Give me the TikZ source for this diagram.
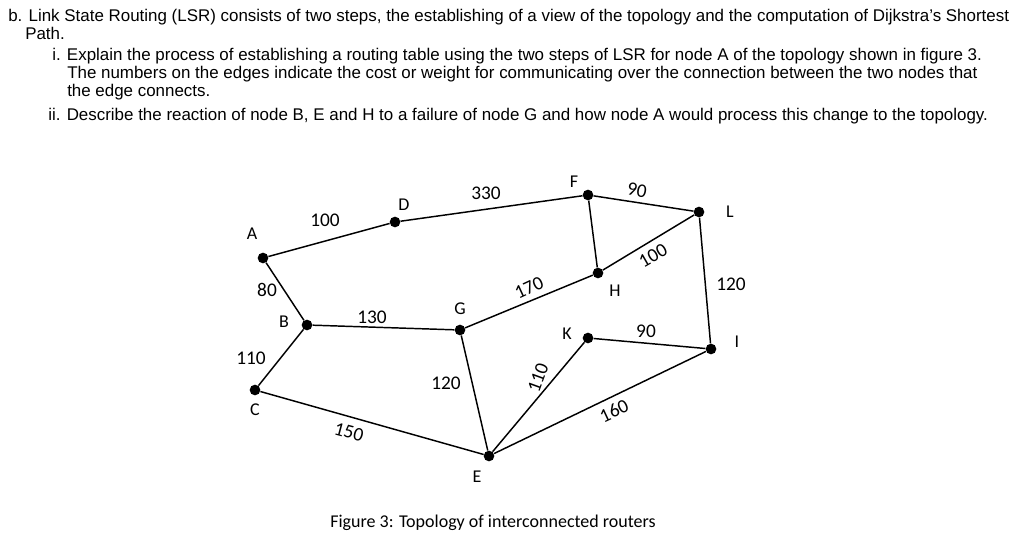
\documentclass[tikz,border=0pt]{standalone}
\usepackage{fontspec}
\setmainfont{Liberation Sans}
\newfontfamily\figfont{Carlito}
\usetikzlibrary{positioning}
\def\mydotsize{8pt}
\tikzset{
  router/.style = {circle, fill, inner sep=0pt, minimum size=\mydotsize},
  rname/.style = {font=\figfont\fontsize{13.5pt}{15pt}\selectfont},
  cost/.style = {font=\figfont\fontsize{14.5pt}{16pt}\selectfont, inner sep=0pt},
  qtext/.style = {anchor=base west, inner sep=0pt, font=\fontsize{12.7pt}{14pt}\selectfont},
  link/.style = {line width=1.1pt}
}
\begin{document}
\begin{tikzpicture}[x=0.75pt, y=-0.75pt]
\useasboundingbox (0,0) rectangle (1024,545);
% question text
\node[qtext] at (8,22) {b. Link State Routing (LSR) consists of two steps, the establishing of a view of the topology and the computation of Dijkstra's Shortest};
\node[qtext] at (25,40) {Path.};
\node[qtext] at (52,61) {i. Explain the process of establishing a routing table using the two steps of LSR for node A of the topology shown in figure 3.};
\node[qtext] at (67,79) {The numbers on the edges indicate the cost or weight for communicating over the connection between the two nodes that};
\node[qtext] at (67,97) {the edge connects.};
\node[qtext] at (48,121) {ii. Describe the reaction of node B, E and H to a failure of node G and how node A would process this change to the topology.};

% routers
\node[router] (A) at (263,258) {};
\node[router] (D) at (395,222) {};
\node[router] (F) at (588,195) {};
\node[router] (L) at (699,212) {};
\node[router] (H) at (598,273) {};
\node[router] (B) at (307,325) {};
\node[router] (G) at (460,330) {};
\node[router] (K) at (588,338) {};
\node[router] (I) at (711,349) {};
\node[router] (C) at (255,390) {};
\node[router] (E) at (489,456) {};

% router names
\node[rname] at (252,234) {A};
\node[rname] at (404,205) {D};
\node[rname] at (574,182) {F};
\node[rname] at (730,212) {L};
\node[rname] at (615,291) {H};
\node[rname] at (284,322) {B};
\node[rname] at (460,309) {G};
\node[rname] at (567,334) {K};
\node[rname] at (737,342) {I};
\node[rname] at (255,410) {C};
\node[rname] at (477,477) {E};

% links
\draw[link] (A) -- (D);
\draw[link] (D) -- (F);
\draw[link] (F) -- (L);
\draw[link] (F) -- (H);
\draw[link] (H) -- (L);
\draw[link] (L) -- (I);
\draw[link] (A) -- (B);
\draw[link] (B) -- (G);
\draw[link] (G) -- (H);
\draw[link] (B) -- (C);
\draw[link] (C) -- (E);
\draw[link] (G) -- (E);
\draw[link] (E) -- (K);
\draw[link] (K) -- (I);
\draw[link] (E) -- (I);

% costs
\node[cost] at (325,220) {100};
\node[cost] at (486,193) {330};
\node[cost, rotate=-10] at (637,190) {90};
\node[cost, rotate=30] at (653,256) {100};
\node[cost] at (731,284) {120};
\node[cost] at (267,290) {80};
\node[cost] at (372,317) {130};
\node[cost, rotate=25] at (529,288) {170};
\node[cost] at (251,358) {110};
\node[cost, rotate=-15] at (349,432) {150};
\node[cost] at (446,383) {120};
\node[cost, rotate=70] at (538,378) {110};
\node[cost] at (646,331) {90};
\node[cost, rotate=25] at (614,411) {160};

% caption
\node[rname] at (493,523) {Figure 3: Topology of interconnected routers};
\end{tikzpicture}
\end{document}
